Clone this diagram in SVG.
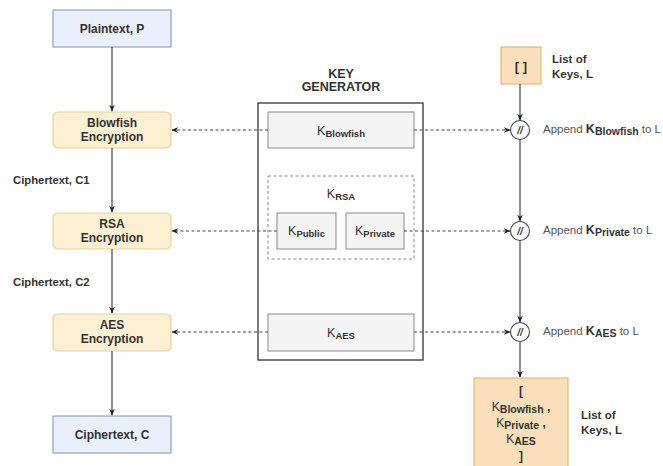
<svg xmlns="http://www.w3.org/2000/svg" width="663" height="466" viewBox="0 0 663 466">
<defs>
<marker id="ah" viewBox="0 0 10 10" refX="9" refY="5" markerWidth="7" markerHeight="7" orient="auto-start-reverse" markerUnits="userSpaceOnUse">
<path d="M0,1 L10,5 L0,9 L3,5 Z" fill="#222"/>
</marker>
<style>
text{font-family:"Liberation Sans",Arial,sans-serif;fill:#333}
.t{font-size:12px;text-anchor:middle}
.b{font-weight:bold}
.blue{fill:#e9f0fb;stroke:#90a4bc;stroke-width:1.2}
.yel{fill:#fdf0d2;stroke:#e6d29e;stroke-width:1.2}
.gry{fill:#f4f4f4;stroke:#8a8a8a;stroke-width:1}
.org{fill:#fbdfbb;stroke:#dfbb80;stroke-width:1.2}
.solid{stroke:#333;stroke-width:1.1;fill:none;marker-end:url(#ah)}
.dash{stroke:#444;stroke-width:1;stroke-dasharray:3 2.5;fill:none}
.app{font-size:11.5px;fill:#555}
.sub{font-size:9.5px;font-weight:bold}
</style>
</defs>
<rect width="663" height="466" fill="#fff"/>

<g id="plaintext"><rect class="blue" x="53" y="10" width="118" height="37"/><text class="t b" x="112" y="32.5">Plaintext, P</text></g>
<g id="blowfish"><rect class="yel" x="53" y="112" width="118" height="36" rx="5"/><text class="t b" x="112" y="127">Blowfish</text><text class="t b" x="112" y="141">Encryption</text></g>
<g id="rsa"><rect class="yel" x="53" y="213" width="118" height="36" rx="5"/><text class="t b" x="112" y="228">RSA</text><text class="t b" x="112" y="242">Encryption</text></g>
<g id="aes"><rect class="yel" x="53" y="314" width="118" height="37" rx="5"/><text class="t b" x="112" y="329">AES</text><text class="t b" x="112" y="343">Encryption</text></g>
<g id="ciphertext"><rect class="blue" x="53" y="416" width="118" height="37"/><text class="t b" x="112" y="438.5">Ciphertext, C</text></g>
<g id="c1"><text x="13" y="184" style="font-size:11.3px;font-weight:bold">Ciphertext, C1</text></g>
<g id="c2"><text x="13" y="286" style="font-size:11.3px;font-weight:bold">Ciphertext, C2</text></g>

<g id="keygen">
<text class="t b" x="341" y="78" style="font-size:12.5px">KEY</text>
<text class="t b" x="341" y="91" style="font-size:12.5px">GENERATOR</text>
<rect x="258" y="103" width="165" height="257" fill="#fff" stroke="#333" stroke-width="1.3"/>
</g>
<g id="kblowfish"><rect class="gry" x="268" y="112" width="146" height="36"/><text x="341" y="135" text-anchor="middle"><tspan style="font-size:12.5px">K</tspan><tspan class="sub" dy="2">Blowfish</tspan></text></g>
<g id="krsa"><rect x="268" y="176" width="146" height="83" fill="none" stroke="#888" stroke-dasharray="3 2.5"/><text x="341" y="198" text-anchor="middle"><tspan style="font-size:12.5px">K</tspan><tspan class="sub" dy="2">RSA</tspan></text></g>
<g id="kpublic"><rect class="gry" x="277" y="213" width="59" height="36"/><text x="306.5" y="235" text-anchor="middle"><tspan style="font-size:12.5px">K</tspan><tspan class="sub" dy="2">Public</tspan></text></g>
<g id="kprivate"><rect class="gry" x="346" y="213" width="58" height="36"/><text x="375" y="235" text-anchor="middle"><tspan style="font-size:12.5px">K</tspan><tspan class="sub" dy="2">Private</tspan></text></g>
<g id="kaes"><rect class="gry" x="268" y="314" width="146" height="37"/><text x="341" y="337" text-anchor="middle"><tspan style="font-size:12.5px">K</tspan><tspan class="sub" dy="2">AES</tspan></text></g>

<g id="list0"><rect class="org" x="501" y="47" width="40" height="37"/><text class="t b" x="521" y="71" style="font-size:13px">[ ]</text>
<text x="552" y="63" style="font-size:11.5px;font-weight:bold">List of</text><text x="552" y="78" style="font-size:11.5px;font-weight:bold">Keys, L</text></g>

<g id="op1"><circle cx="520" cy="130" r="9.5" fill="#fff" stroke="#444" stroke-width="1.1"/><text x="520" y="134" text-anchor="middle" style="font-size:10px;font-style:italic;font-weight:bold">//</text>
<text class="app" x="543" y="133">Append <tspan style="font-size:12.5px;font-weight:bold;fill:#333">K</tspan><tspan class="sub" dy="2" style="fill:#333;font-size:10.5px">Blowfish</tspan><tspan dy="-2"> to L</tspan></text></g>
<g id="op2"><circle cx="520" cy="231" r="9.5" fill="#fff" stroke="#444" stroke-width="1.1"/><text x="520" y="235" text-anchor="middle" style="font-size:10px;font-style:italic;font-weight:bold">//</text>
<text class="app" x="543" y="234">Append <tspan style="font-size:12.5px;font-weight:bold;fill:#333">K</tspan><tspan class="sub" dy="2" style="fill:#333;font-size:10.5px">Private</tspan><tspan dy="-2"> to L</tspan></text></g>
<g id="op3"><circle cx="520" cy="332" r="9.5" fill="#fff" stroke="#444" stroke-width="1.1"/><text x="520" y="336" text-anchor="middle" style="font-size:10px;font-style:italic;font-weight:bold">//</text>
<text class="app" x="543" y="335">Append <tspan style="font-size:12.5px;font-weight:bold;fill:#333">K</tspan><tspan class="sub" dy="2" style="fill:#333;font-size:10.5px">AES</tspan><tspan dy="-2"> to L</tspan></text></g>

<g id="list1"><rect class="org" x="474" y="378" width="94" height="90"/>
<text class="t b" x="521" y="395">[</text>
<text x="521" y="411" text-anchor="middle"><tspan style="font-size:12px">K</tspan><tspan class="sub" dy="2" style="font-size:10.5px">Blowfish</tspan><tspan dy="-2" style="font-size:12px;font-weight:bold"> ,</tspan></text>
<text x="521" y="427" text-anchor="middle"><tspan style="font-size:12px">K</tspan><tspan class="sub" dy="2" style="font-size:10.5px">Private</tspan><tspan dy="-2" style="font-size:12px;font-weight:bold"> ,</tspan></text>
<text x="521" y="443" text-anchor="middle"><tspan style="font-size:12px">K</tspan><tspan class="sub" dy="2" style="font-size:10.5px">AES</tspan></text>
<text class="t b" x="521" y="460">]</text>
<text x="581" y="419" style="font-size:11.5px;font-weight:bold">List of</text><text x="581" y="434" style="font-size:11.5px;font-weight:bold">Keys, L</text></g>

<g id="connectors">
<line class="solid" x1="112" y1="47" x2="112" y2="111"/>
<line class="solid" x1="112" y1="148" x2="112" y2="212"/>
<line class="solid" x1="112" y1="249" x2="112" y2="313"/>
<line class="solid" x1="112" y1="351" x2="112" y2="415"/>
<line class="solid" x1="520" y1="84" x2="520" y2="120"/>
<line class="solid" x1="520" y1="139.5" x2="520" y2="221"/>
<line class="solid" x1="520" y1="240.5" x2="520" y2="322"/>
<line class="solid" x1="520" y1="341.5" x2="520" y2="377"/>
<line class="dash" x1="268" y1="130" x2="172" y2="130" marker-end="url(#ah)"/>
<line class="dash" x1="414" y1="130" x2="510" y2="130" marker-end="url(#ah)"/>
<line class="dash" x1="277" y1="231" x2="172" y2="231" marker-end="url(#ah)"/>
<line class="dash" x1="404" y1="231" x2="510" y2="231" marker-end="url(#ah)"/>
<line class="dash" x1="268" y1="332" x2="172" y2="332" marker-end="url(#ah)"/>
<line class="dash" x1="414" y1="332" x2="510" y2="332" marker-end="url(#ah)"/>
</g>
</svg>
